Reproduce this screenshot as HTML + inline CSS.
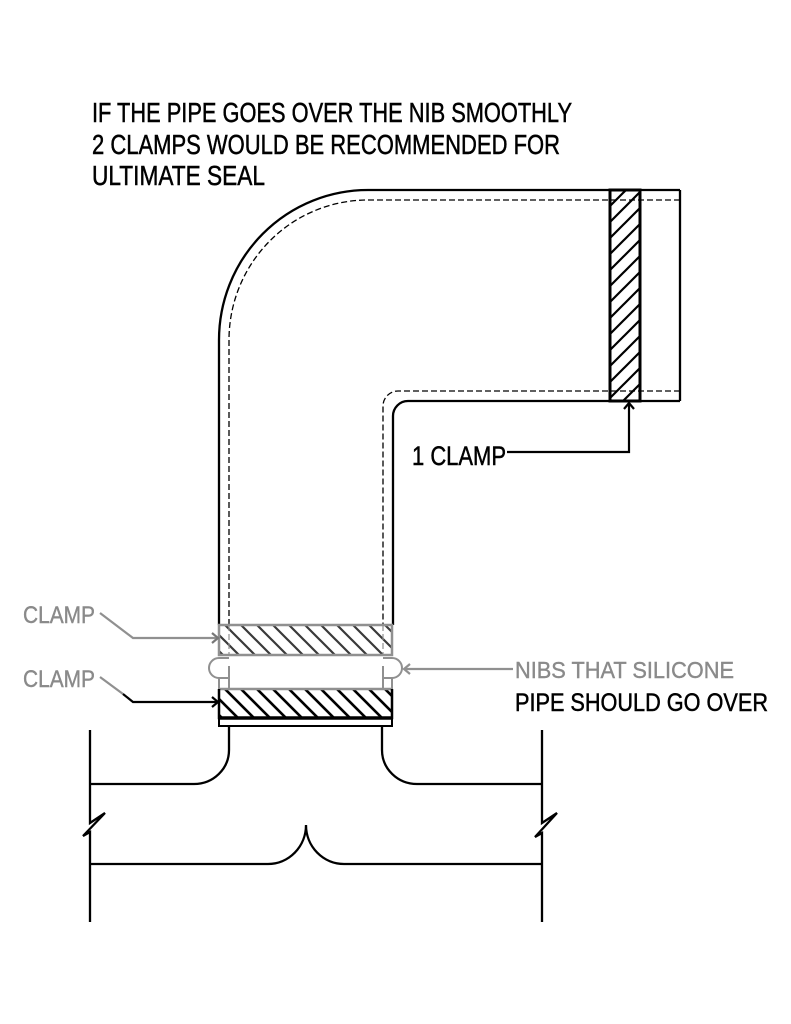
<!DOCTYPE html>
<html><head><meta charset="utf-8"><style>
html,body{margin:0;padding:0;background:#fff;}
svg{display:block;}
text{font-family:"Liberation Sans",Arial,sans-serif;}
</style></head><body>
<svg width="791" height="1024" viewBox="0 0 791 1024" xmlns="http://www.w3.org/2000/svg">
<defs>
<pattern id="hatchF" patternUnits="userSpaceOnUse" width="16" height="16">
<path d="M-2 18 L18 -2 M-2 2 L2 -2 M14 18 L18 14" stroke="#000" stroke-width="2.2"/>
</pattern>
<pattern id="hatchB" patternUnits="userSpaceOnUse" width="16" height="16">
<path d="M-2 -2 L18 18 M14 -2 L18 2 M-2 14 L2 18" stroke="#000" stroke-width="2.6"/>
</pattern>
<pattern id="hatchG" patternUnits="userSpaceOnUse" width="16" height="16">
<path d="M-2 -2 L18 18 M14 -2 L18 2 M-2 14 L2 18" stroke="#3a3a3a" stroke-width="2.2"/>
</pattern>
</defs>

<!-- title text -->
<g fill="#000" stroke="#000" stroke-width="0.5" font-size="27.5">
<text x="92" y="122" textLength="480" lengthAdjust="spacingAndGlyphs">IF THE PIPE GOES OVER THE NIB SMOOTHLY</text>
<text x="92" y="154" textLength="468" lengthAdjust="spacingAndGlyphs">2 CLAMPS WOULD BE RECOMMENDED FOR</text>
<text x="92" y="185" textLength="173" lengthAdjust="spacingAndGlyphs">ULTIMATE SEAL</text>
</g>

<!-- pipe outlines -->
<g fill="none" stroke="#000" stroke-width="2.3">
<path d="M680 190 H368 A149 150 0 0 0 219 340 V625"/>
<path d="M680 401 H408 A15 15 0 0 0 393 416 V625"/>
<path d="M680 190 V401"/>
</g>
<g fill="none" stroke="#000" stroke-width="1.3" stroke-dasharray="6 3">
<path d="M680 200 H368 A139 140 0 0 0 229 340 V625"/>
<path d="M680 391 H398 A15 15 0 0 0 383 406 V625"/>
</g>

<!-- right clamp -->
<rect x="610" y="190" width="30" height="211" fill="url(#hatchF)"/>
<rect x="610" y="190" width="30" height="211" fill="none" stroke="#000" stroke-width="3"/>

<!-- upper clamp (gray) -->
<rect x="219" y="625" width="173" height="30" fill="url(#hatchG)"/>
<rect x="219" y="625" width="173" height="30" fill="none" stroke="#909090" stroke-width="2.5"/>
<g stroke="#909090" stroke-width="1.2" stroke-dasharray="6 3">
<path d="M229 625 V655 M383 625 V655"/>
</g>

<!-- nibs (gray) -->
<g fill="none" stroke="#909090" stroke-width="2">
<path d="M229 658 H219 A10 10 0 0 0 219 678 H229"/>
<path d="M229 666 V689"/>
<path d="M219 678 V689"/>
<path d="M383 658 H392 A10 10 0 0 1 392 678 H383"/>
<path d="M383 666 V689"/>
<path d="M392 678 V689"/>
</g>

<!-- lower clamp -->
<rect x="219" y="689" width="173" height="29" fill="url(#hatchB)"/>
<path d="M219 689 H392" stroke="#909090" stroke-width="2.5"/>
<path d="M219 689 V718 H392 V689" fill="none" stroke="#000" stroke-width="2.5"/>
<path d="M219 718 H392" stroke="#000" stroke-width="3.5"/>
<rect x="219" y="718" width="173" height="8" fill="none" stroke="#000" stroke-width="2"/>

<!-- lower spigot and base -->
<g fill="none" stroke="#000" stroke-width="2.3">
<path d="M229 726 V750 A35 34 0 0 1 194 784 H89"/>
<path d="M382 726 V750 A35 34 0 0 0 417 784 H542"/>
<path d="M90 730 V823 L105 813 L83 836 L90 832 V922"/>
<path d="M542 730 V823 L557 813 L535 837 L542 833 V922"/>
<path d="M90 864 H268 A38 39 0 0 0 306 825 A38 39 0 0 0 344 864 H542"/>
</g>

<!-- leaders -->
<g fill="none" stroke-width="2.2">
<path d="M100 613 L133 638 H218" stroke="#909090"/>
<path d="M212 633 L218 638 L212 643" stroke="#777"/>
<path d="M100 677 L123 694" stroke="#909090"/>
<path d="M123 694 L133 702 H218" stroke="#000"/>
<path d="M212 697 L218 702 L212 707" stroke="#000"/>
<path d="M507 452 H629 V404" stroke="#000"/>
<path d="M624 409 L629 403 L634 409" stroke="#000"/>
<path d="M513 669 H404" stroke="#909090"/>
<path d="M410 664 L404 669 L410 674" stroke="#909090"/>
</g>

<!-- labels -->
<g font-size="24.5" fill="#8a8a8a" stroke="#8a8a8a" stroke-width="0.4">
<text x="23" y="623" textLength="72" lengthAdjust="spacingAndGlyphs">CLAMP</text>
<text x="23" y="687" textLength="72" lengthAdjust="spacingAndGlyphs">CLAMP</text>
</g>
<text x="412" y="465" font-size="27" fill="#000" stroke="#000" stroke-width="0.5" textLength="94" lengthAdjust="spacingAndGlyphs">1 CLAMP</text>
<text x="515" y="678" font-size="23.5" fill="#8a8a8a" stroke="#8a8a8a" stroke-width="0.4" textLength="219" lengthAdjust="spacingAndGlyphs">NIBS THAT SILICONE</text>
<text x="515" y="711" font-size="25" fill="#000" stroke="#000" stroke-width="0.5" textLength="253" lengthAdjust="spacingAndGlyphs">PIPE SHOULD GO OVER</text>
</svg>
</body></html>
